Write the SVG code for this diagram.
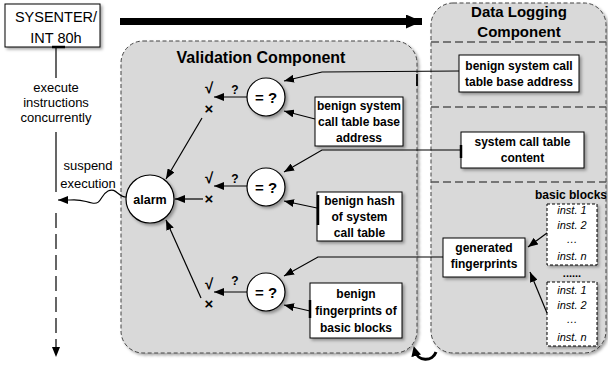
<svg xmlns="http://www.w3.org/2000/svg" width="608" height="368" viewBox="0 0 608 368">
<defs>
<filter id="sh" x="-10%" y="-10%" width="130%" height="130%">
<feDropShadow dx="2" dy="2" stdDeviation="1.5" flood-color="#000" flood-opacity="0.35"/>
</filter>
<marker id="ah" viewBox="0 0 10 8" refX="10" refY="4" markerWidth="10" markerHeight="8" markerUnits="userSpaceOnUse" orient="auto">
<path d="M0,0 L10,4 L0,8 z" fill="#000"/>
</marker>
<marker id="big" viewBox="0 0 16 14" refX="16" refY="7" markerWidth="16" markerHeight="14" markerUnits="userSpaceOnUse" orient="auto">
<path d="M0,0 L16,7 L0,14 z" fill="#000"/>
</marker>
<marker id="uh" viewBox="0 0 10 10" refX="5" refY="5" markerWidth="10" markerHeight="10" markerUnits="userSpaceOnUse" orient="auto">
<path d="M0,0 L10,5 L0,10 z" fill="#000"/>
</marker>
</defs>
<style>
text{font-family:"Liberation Sans",Arial,sans-serif;fill:#000}
.b{font-weight:bold}
.t12{font-size:12px;font-weight:bold;text-anchor:middle}
.it{font-size:11px;font-style:italic;text-anchor:middle}
.panel{fill:#d9d9d9;stroke:#444;stroke-width:1;stroke-dasharray:4 2.5}
.box{fill:#fff;stroke:#000;stroke-width:1}
.dbox{fill:#fff;stroke:#000;stroke-width:1;stroke-dasharray:3 2}
.sep{fill:none;stroke:#555;stroke-width:1.5;stroke-dasharray:8 4}
.c{fill:none;stroke:#000;stroke-width:1.2}
.mk{fill:none;stroke:#000;stroke-width:2.5}
.circ{fill:#fff;stroke:#000;stroke-width:1.2}
.sym{font-weight:bold;font-size:15px;text-anchor:middle}
.q{font-weight:bold;font-size:12px;text-anchor:middle}
</style>

<g id="validation-panel">
<rect class="panel" x="121" y="41" width="296" height="312" rx="22" filter="url(#sh)"/>
<text class="b" x="261" y="63" font-size="16" text-anchor="middle">Validation Component</text>
</g>

<g id="datalogging-panel">
<rect class="panel" x="431" y="3" width="175" height="350" rx="22" filter="url(#sh)"/>
<text class="b" x="519" y="17" font-size="15" text-anchor="middle">Data Logging</text>
<text class="b" x="519" y="37" font-size="15" text-anchor="middle">Component</text>
<line class="sep" x1="431" y1="42" x2="606" y2="42"/>
<line class="sep" x1="431" y1="107" x2="606" y2="107"/>
<line class="sep" x1="431" y1="182" x2="606" y2="182"/>
</g>

<g id="sysenter">
<rect class="box" x="5" y="4" width="95" height="43" filter="url(#sh)"/>
<text x="56" y="21.5" font-size="14.5" text-anchor="middle">SYSENTER/</text>
<text x="56" y="42.5" font-size="14.5" text-anchor="middle">INT 80h</text>
</g>

<g id="labels">
<text x="56" y="92" font-size="13" text-anchor="middle">execute</text>
<text x="56" y="107" font-size="13" text-anchor="middle">instructions</text>
<text x="56" y="122" font-size="13" text-anchor="middle">concurrently</text>
<text x="88" y="170" font-size="13" text-anchor="middle">suspend</text>
<text x="88" y="188" font-size="13" text-anchor="middle">execution</text>
</g>

<g id="alarm">
<circle class="circ" cx="150" cy="199" r="24" filter="url(#sh)"/>
<text class="b" x="150" y="203.5" font-size="12.5" text-anchor="middle">alarm</text>
</g>

<g id="cmp1">
<circle class="circ" cx="266" cy="97" r="19" filter="url(#sh)"/>
<text class="b" x="266" y="102.5" font-size="15" text-anchor="middle">= ?</text>
</g>
<g id="cmp2">
<circle class="circ" cx="266" cy="187" r="19" filter="url(#sh)"/>
<text class="b" x="266" y="192.5" font-size="15" text-anchor="middle">= ?</text>
</g>
<g id="cmp3">
<circle class="circ" cx="266" cy="292" r="19" filter="url(#sh)"/>
<text class="b" x="266" y="297.5" font-size="15" text-anchor="middle">= ?</text>
</g>

<g id="results">
<text class="sym" x="209" y="93">√</text>
<text class="q" x="235" y="94">?</text>
<text class="sym" x="209" y="114">×</text>
<text class="sym" x="209" y="183">√</text>
<text class="q" x="235" y="183">?</text>
<text class="sym" x="209" y="204">×</text>
<text class="sym" x="209" y="289">√</text>
<text class="q" x="235" y="285">?</text>
<text class="sym" x="209" y="309">×</text>
</g>

<g id="benign-base">
<rect class="box" x="315" y="97" width="88" height="49" filter="url(#sh)"/>
<text class="t12" x="359" y="110">benign system</text>
<text class="t12" x="359" y="126">call table base</text>
<text class="t12" x="359" y="142">address</text>
</g>
<g id="benign-hash">
<rect class="box" x="317" y="192" width="85" height="49" filter="url(#sh)"/>
<text class="t12" x="359.5" y="205">benign hash</text>
<text class="t12" x="359.5" y="221">of system</text>
<text class="t12" x="359.5" y="237">call table</text>
</g>
<g id="benign-fp">
<rect class="box" x="310" y="283" width="92" height="55" filter="url(#sh)"/>
<text class="t12" x="356" y="298">benign</text>
<text class="t12" x="356" y="315">fingerprints of</text>
<text class="t12" x="356" y="332">basic blocks</text>
</g>

<g id="log-base">
<rect class="box" x="459" y="55" width="120" height="37" filter="url(#sh)"/>
<text class="t12" x="519" y="70">benign system call</text>
<text class="t12" x="519" y="86">table base address</text>
</g>
<g id="log-content">
<rect class="box" x="461" y="132" width="123" height="36" filter="url(#sh)"/>
<text class="t12" x="522.5" y="146">system call table</text>
<text class="t12" x="522.5" y="162">content</text>
</g>
<g id="generated">
<rect class="box" x="443" y="238" width="82" height="39" filter="url(#sh)"/>
<text class="t12" x="484" y="252">generated</text>
<text class="t12" x="484" y="268">fingerprints</text>
</g>
<g id="basic-blocks">
<text class="b" x="571" y="199" font-size="12" text-anchor="middle">basic blocks</text>
<rect class="dbox" x="547" y="204" width="50" height="61" filter="url(#sh)"/>
<text class="it" x="572" y="214">inst. 1</text>
<text class="it" x="572" y="229">inst. 2</text>
<text class="it" x="572" y="243">…</text>
<text class="it" x="572" y="260">inst. n</text>
<text class="b" x="572" y="277" font-size="11" text-anchor="middle">......</text>
<rect class="dbox" x="547" y="282" width="50" height="64" filter="url(#sh)"/>
<text class="it" x="572" y="294">inst. 1</text>
<text class="it" x="572" y="309">inst. 2</text>
<text class="it" x="572" y="323">…</text>
<text class="it" x="572" y="341">inst. n</text>
</g>

<g id="connectors">
<line x1="120" y1="21.5" x2="422" y2="21.5" stroke="#000" stroke-width="7" marker-end="url(#big)"/>
<line class="c" x1="56" y1="47" x2="56" y2="78"/>
<line class="c" x1="56" y1="132" x2="56" y2="192"/>
<line class="c" x1="56" y1="213" x2="56" y2="357" stroke-dasharray="15 6" marker-end="url(#ah)"/>
<path class="c" d="M126,197 c-8,0 -10,-10 -18,-6 c-8,4 -6,14 -16,12 c-9,-2 -11,-4 -22,-3 L58,200" marker-end="url(#ah)"/>
<polyline class="c" points="459,71 322,72 284,81" marker-end="url(#ah)"/>
<line class="c" x1="315" y1="119" x2="284" y2="111" marker-end="url(#ah)"/>
<polyline class="c" points="461,150 322,150 284,172" marker-end="url(#ah)"/>
<line class="c" x1="317" y1="208" x2="284" y2="201" marker-end="url(#ah)"/>
<polyline class="c" points="443,257 318,257 284,276" marker-end="url(#ah)"/>
<line class="c" x1="310" y1="311" x2="284" y2="305" marker-end="url(#ah)"/>
<line class="c" x1="247" y1="97" x2="214" y2="97" marker-end="url(#ah)"/>
<line class="c" x1="247" y1="186" x2="214" y2="186" marker-end="url(#ah)"/>
<line class="c" x1="247" y1="292" x2="214" y2="292" marker-end="url(#ah)"/>
<line class="c" x1="202" y1="118" x2="166" y2="179" marker-end="url(#ah)"/>
<line class="c" x1="203" y1="199" x2="175" y2="199" marker-end="url(#ah)"/>
<line class="c" x1="201" y1="298" x2="166" y2="220" marker-end="url(#ah)"/>
<line class="c" x1="547" y1="233" x2="528" y2="247" marker-end="url(#ah)"/>
<line class="c" x1="547" y1="313" x2="530" y2="272" marker-end="url(#ah)"/>
<path d="M436,352 A11,11 0 0 1 415,351" fill="none" stroke="#000" stroke-width="3" marker-end="url(#uh)"/>
<line class="mk" x1="52" y1="47" x2="65" y2="47"/>
<line class="mk" x1="461" y1="145" x2="461" y2="158"/>
<line class="mk" x1="318" y1="195" x2="318" y2="225"/>
<line class="mk" x1="310" y1="300" x2="310" y2="318"/>
<line x1="417" y1="74" x2="417" y2="86" stroke="#000" stroke-width="1.8"/>
</g>
</svg>
